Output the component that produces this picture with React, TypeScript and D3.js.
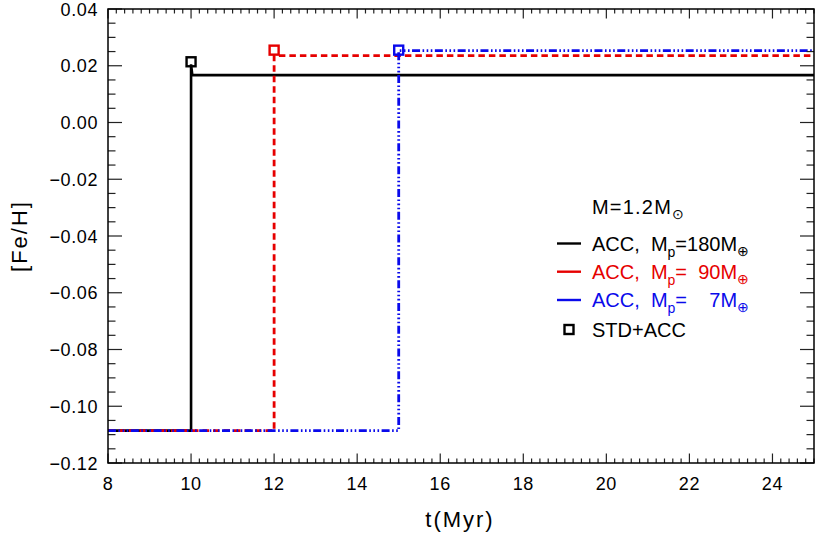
import React from "react";
import * as d3 from "d3";

// ---- data ----
const xTickValues = [8, 10, 12, 14, 16, 18, 20, 22, 24];
const xTickLabels = ["8", "10", "12", "14", "16", "18", "20", "22", "24"];
const yTickValues = [-0.12, -0.1, -0.08, -0.06, -0.04, -0.02, 0.0, 0.02, 0.04];
const yTickLabels = ["−0.12", "−0.10", "−0.08", "−0.06", "−0.04", "−0.02", "0.00", "0.02", "0.04"];

const blackT = [8, 10, 10, 10.03, 25];
const blackFeH = [-0.1086, -0.1086, 0.0205, 0.0167, 0.0167];
const redT = [8, 12, 12, 25];
const redFeH = [-0.1086, -0.1086, 0.0236, 0.0236];
const blueT = [8, 15, 15, 25];
const blueFeH = [-0.1086, -0.1086, 0.0253, 0.0253];

const stdT = [10, 12, 15];
const stdFeH = [0.0214, 0.0255, 0.0255];

const BLACK = "#000000";
const RED = "#e60000";
const BLUE = "#0a0aeb";

const W = 830;
const H = 534;
const L = 108;
const R = 814;
const T = 9;
const B = 463;

const FONT = "'Liberation Sans', Arial, Helvetica, sans-serif";

export default function App() {
  const x = d3.scaleLinear().domain([8, 25]).range([L, R]);
  const y = d3.scaleLinear().domain([-0.12, 0.04]).range([B, T]);

  const line = d3
    .line<[number, number]>()
    .x((d) => x(d[0]))
    .y((d) => y(d[1]));

  const mk = (ts: number[], vs: number[]) => ts.map((t, i) => [t, vs[i]] as [number, number]);

  const series = [
    { pts: mk(blackT, blackFeH), color: BLACK, width: 2.6, dash: undefined as string | undefined },
    { pts: mk(redT, redFeH), color: RED, width: 2.8, dash: "6.5,4" },
    { pts: mk(blueT, blueFeH), color: BLUE, width: 2.8, dash: "8,2.5,1.6,2.5,1.6,2.5,1.6,2.5" },
  ];
  const sqColors = [BLACK, RED, BLUE];

  const xMinor = d3.range(8, 25.001, 0.2).filter((v) => Math.abs(v / 2 - Math.round(v / 2)) > 1e-6);
  const yMinor = d3.range(-0.12, 0.04001, 0.005).filter((v) => Math.abs(v / 0.02 - Math.round(v / 0.02)) > 1e-6);

  const xMajLen = 9.5;
  const xMinLen = 4.5;
  const yMajLen = 14;
  const yMinLen = 7.5;

  const legX0 = 557;
  const legX1 = 581;
  const legTextX = 592;
  const legRows = [243.5, 271.7, 300];
  const legColors = [BLACK, RED, BLUE];
  const legMassText = ["=180M", "=  90M", "=    7M"];

  return (
    <svg
      width={W}
      height={H}
      style={{ position: "absolute", left: 0, top: 0, background: "#fff" }}
      fontFamily={FONT}
    >
      <rect x={0} y={0} width={W} height={H} fill="#fff" />
      {series.map((s, i) => (
        <path
          key={i}
          d={line(s.pts) || ""}
          fill="none"
          stroke={s.color}
          strokeWidth={s.width}
          strokeDasharray={s.dash}
        />
      ))}
      {stdT.map((t, i) => (
        <rect
          key={i}
          x={x(t) - 4.5}
          y={y(stdFeH[i]) - 4.5}
          width={9}
          height={9}
          fill="none"
          stroke={sqColors[i]}
          strokeWidth={2.4}
        />
      ))}

      <g stroke="#222" strokeWidth={1.2}>
        {xTickValues.map((v) => (
          <g key={"xm" + v}>
            <line x1={x(v)} x2={x(v)} y1={B} y2={B - xMajLen} />
            <line x1={x(v)} x2={x(v)} y1={T} y2={T + xMajLen} />
          </g>
        ))}
        {xMinor.map((v, i) => (
          <g key={"xn" + i}>
            <line x1={x(v)} x2={x(v)} y1={B} y2={B - xMinLen} />
            <line x1={x(v)} x2={x(v)} y1={T} y2={T + xMinLen} />
          </g>
        ))}
        {yTickValues.map((v) => (
          <g key={"ym" + v}>
            <line x1={L} x2={L + yMajLen} y1={y(v)} y2={y(v)} />
            <line x1={R} x2={R - yMajLen} y1={y(v)} y2={y(v)} />
          </g>
        ))}
        {yMinor.map((v, i) => (
          <g key={"yn" + i}>
            <line x1={L} x2={L + yMinLen} y1={y(v)} y2={y(v)} />
            <line x1={R} x2={R - yMinLen} y1={y(v)} y2={y(v)} />
          </g>
        ))}
      </g>
      <rect x={L} y={T} width={R - L} height={B - T} fill="none" stroke="#000" strokeWidth={1.5} />

      {xTickValues.map((v, i) => (
        <text key={"xl" + v} x={x(v)} y={490} textAnchor="middle" fontSize={18} letterSpacing={0.6} fill="#000">
          {xTickLabels[i]}
        </text>
      ))}
      {yTickValues.map((v, i) => (
        <text key={"yl" + v} x={98} y={y(v) + 6.5} textAnchor="end" fontSize={18} letterSpacing={0.6} fill="#000">
          {yTickLabels[i]}
        </text>
      ))}

      <text x={460} y={527} textAnchor="middle" fontSize={22} letterSpacing={2} fill="#000">
        t(Myr)
      </text>
      <text
        transform={`translate(27,236) rotate(-90)`}
        textAnchor="middle"
        fontSize={22}
        letterSpacing={2}
        fill="#000"
      >
        [Fe/H]
      </text>

      <text x={legTextX} y={214} fontSize={20} letterSpacing={1.2} fill="#000" style={{ whiteSpace: "pre" }}>
        M=1.2M
        <tspan fontSize={14} dy={5}>
          ⊙
        </tspan>
      </text>
      {legRows.map((ry, i) => (
        <g key={"leg" + i}>
          <line x1={legX0} x2={legX1} y1={ry} y2={ry} stroke={legColors[i]} strokeWidth={2.4} />
          <text x={legTextX} y={ry + 7} fontSize={20} fill={legColors[i]} style={{ whiteSpace: "pre" }}>
            {"ACC,  M"}
            <tspan fontSize={14} dy={6}>
              p
            </tspan>
            <tspan dy={-6}>{legMassText[i]}</tspan>
            <tspan fontSize={14} dy={5}>
              ⊕
            </tspan>
          </text>
        </g>
      ))}
      <rect x={564.5} y={325} width={9} height={9} fill="none" stroke="#000" strokeWidth={2.4} />
      <text x={legTextX} y={336.5} fontSize={20} fill="#000">
        STD+ACC
      </text>
    </svg>
  );
}
